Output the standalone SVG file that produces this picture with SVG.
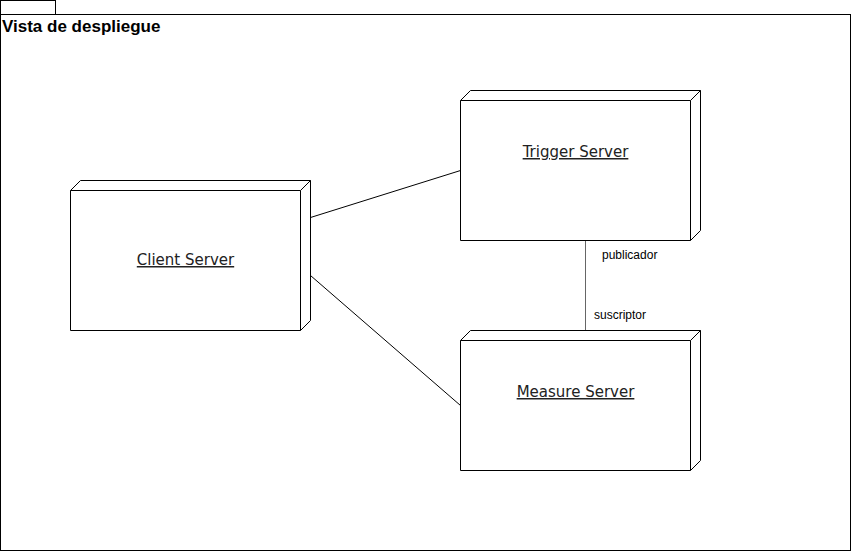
<svg xmlns="http://www.w3.org/2000/svg" width="852" height="552" viewBox="0 0 852 552">
<style>
.box{fill:#fff;stroke:#000;stroke-width:1}
.lbl{font-family:"DejaVu Sans",Verdana,sans-serif;font-size:15px;text-anchor:middle;text-decoration:underline;fill:#222}
.sm{font-family:"Liberation Sans",Arial,sans-serif;font-size:12px;fill:#000}
.ln{stroke:#000;stroke-width:1;fill:none}
</style>
<rect width="852" height="552" fill="#fff"/>
<g id="frame">
<rect class="box" x="0.5" y="0.5" width="55" height="14"/>
<rect class="box" x="0.5" y="14.5" width="850" height="536"/>
<text x="2" y="32" font-family="Liberation Sans,Arial,sans-serif" font-size="17" font-weight="bold">Vista de despliegue</text>
</g>
<g id="connectors">
<line class="ln" x1="310.5" y1="217.5" x2="460.5" y2="170.5"/>
<line class="ln" x1="310.5" y1="275.5" x2="460.5" y2="405.5"/>
<line x1="585.5" y1="240.5" x2="585.5" y2="330.5" stroke="#666" stroke-width="1"/>
<text class="sm" x="602" y="259">publicador</text>
<text class="sm" x="594" y="319">suscriptor</text>
</g>
<g id="client">
<path class="box" d="M70.5 190.5 L80.5 180.5 L310.5 180.5 L310.5 320.5 L300.5 330.5 L70.5 330.5 Z"/>
<path class="ln" d="M70.5 190.5 L300.5 190.5 L310.5 180.5 M300.5 190.5 L300.5 330.5"/>
<text class="lbl" x="185.5" y="265">Client Server</text>
</g>
<g id="trigger">
<path class="box" d="M460.5 100.5 L470.5 90.5 L700.5 90.5 L700.5 230.5 L690.5 240.5 L460.5 240.5 Z"/>
<path class="ln" d="M460.5 100.5 L690.5 100.5 L700.5 90.5 M690.5 100.5 L690.5 240.5"/>
<text class="lbl" x="575.5" y="157">Trigger Server</text>
</g>
<g id="measure">
<path class="box" d="M460.5 340.5 L470.5 330.5 L700.5 330.5 L700.5 460.5 L690.5 470.5 L460.5 470.5 Z"/>
<path class="ln" d="M460.5 340.5 L690.5 340.5 L700.5 330.5 M690.5 340.5 L690.5 470.5"/>
<text class="lbl" x="575.5" y="397">Measure Server</text>
</g>
</svg>
